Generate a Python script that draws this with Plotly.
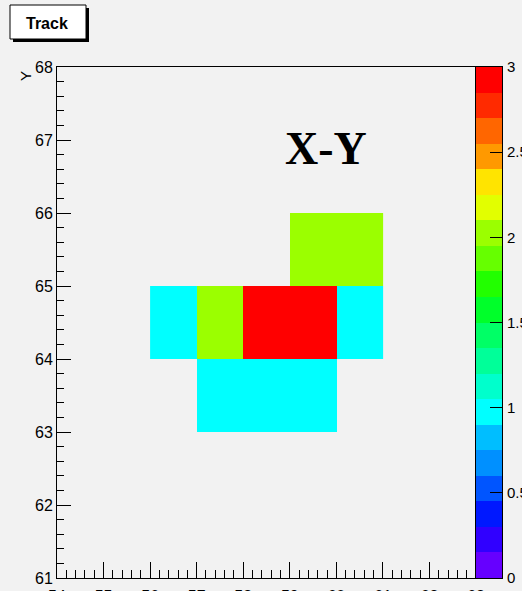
import plotly.graph_objects as go

# Bin centres of the filled cells (unit-wide bins)
x_centers = [56.5, 57.5, 58.5, 59.5, 60.5]
y_centers = [63.5, 64.5, 65.5]

# Cell contents, one row per y bin (None = empty bin)
z_rows = [
    [None, 1, 1, 1, None],
    [1, 2, 3, 3, 1],
    [None, None, None, 2, 2],
]

x_range = [54, 63]
y_range = [61, 68]
z_range = [0, 3]
cbar_ticks = [0, 0.5, 1, 1.5, 2, 2.5, 3]
cbar_ticktext = ["0", "0.5", "1", "1.5", "2", "2.5", "3"]

# 20-level rainbow palette, bottom to top
palette = [
    "#6600FF", "#3000FF", "#0018FF", "#0055FF", "#0090FF",
    "#00BEFF", "#00FFFF", "#00FFCC", "#00FF99", "#00FF66",
    "#00FF2A", "#22FF00", "#66FF00", "#9BFF00", "#E2FF00",
    "#FFE400", "#FF9900", "#FF6600", "#FF2A00", "#FF0000",
]
n = len(palette)
colorscale = []
for i, c in enumerate(palette):
    colorscale.append([i / n, c])
    colorscale.append([(i + 1) / n, c])

# palette bar: one cell per contour level
step = (z_range[1] - z_range[0]) / n
bar_y = [z_range[0] + (i + 0.5) * step for i in range(n)]
bar_z = [[v] for v in bar_y]

W, H = 522, 591
ML, MR, MT, MB = 57, 20, 67, 13
PW, PH = W - ML - MR, H - MT - MB
FRAME_RIGHT = 476          # pixel x where the frame meets the palette bar
split = (FRAME_RIGHT - ML) / PW


def px(xp):
    return (xp - ML) / PW


def py(yp):
    return (H - MB - yp) / PH


BG = "#f2f2f2"

fig = go.Figure()
fig.add_trace(
    go.Heatmap(
        x=x_centers,
        y=y_centers,
        z=z_rows,
        zmin=z_range[0],
        zmax=z_range[1],
        colorscale=colorscale,
        showscale=False,
        hoverongaps=False,
        xaxis="x",
        yaxis="y",
    )
)
fig.add_trace(
    go.Heatmap(
        x=[0],
        y=bar_y,
        z=bar_z,
        zmin=z_range[0],
        zmax=z_range[1],
        colorscale=colorscale,
        showscale=False,
        xaxis="x2",
        yaxis="y2",
    )
)

axis_font = dict(family="Liberation Sans", size=16, color="black")

fig.update_layout(
    xaxis=dict(
        domain=[0, split],
        anchor="y",
        range=x_range,
        tickmode="linear",
        tick0=54,
        dtick=1,
        ticks="inside",
        ticklen=16,
        tickcolor="black",
        tickwidth=1,
        minor=dict(ticks="inside", dtick=0.2, ticklen=8, tickcolor="black", tickwidth=1),
        showline=True,
        linecolor="black",
        linewidth=1,
        mirror=True,
        showgrid=False,
        zeroline=False,
        tickfont=axis_font,
        automargin=False,
        ticklabelstandoff=4,
    ),
    yaxis=dict(
        domain=[0, 1],
        anchor="x",
        range=y_range,
        tickmode="linear",
        tick0=61,
        dtick=1,
        ticks="inside",
        ticklen=14,
        tickcolor="black",
        tickwidth=1,
        minor=dict(ticks="inside", dtick=0.2, ticklen=7, tickcolor="black", tickwidth=1),
        showline=True,
        linecolor="black",
        linewidth=1,
        mirror=True,
        showgrid=False,
        zeroline=False,
        tickfont=axis_font,
        automargin=False,
    ),
    xaxis2=dict(
        domain=[split, 1],
        anchor="y2",
        range=[-0.5, 0.5],
        showticklabels=False,
        ticks="",
        showline=True,
        linecolor="black",
        linewidth=1,
        mirror=True,
        showgrid=False,
        zeroline=False,
        fixedrange=True,
    ),
    yaxis2=dict(
        domain=[0, 1],
        anchor="x2",
        side="right",
        range=z_range,
        tickmode="array",
        tickvals=cbar_ticks,
        ticktext=cbar_ticktext,
        ticks="inside",
        ticklen=12,
        tickcolor="black",
        tickwidth=1,
        showline=True,
        linecolor="black",
        linewidth=1,
        mirror=True,
        showgrid=False,
        zeroline=False,
        tickfont=dict(family="Liberation Sans", size=15, color="black"),
        automargin=False,
        ticklabelstandoff=1,
        fixedrange=True,
    ),
)

shapes = [
    # title box shadow and box
    dict(type="rect", xref="paper", yref="paper",
         x0=px(13), x1=px(89), y0=py(42), y1=py(8),
         fillcolor="black", line=dict(width=0), layer="above"),
    dict(type="rect", xref="paper", yref="paper",
         x0=px(10), x1=px(86), y0=py(39), y1=py(5),
         fillcolor="white", line=dict(color="black", width=1), layer="above"),
]

annotations = [
    dict(text="<b>Track</b>", xref="paper", yref="paper", x=px(47), y=py(23),
         xanchor="center", yanchor="middle", showarrow=False,
         font=dict(family="Liberation Sans", size=16, color="black")),
    dict(text="<b>X-Y</b>", xref="paper", yref="paper", x=px(326), y=py(148),
         xanchor="center", yanchor="middle", showarrow=False,
         font=dict(family="Liberation Serif", size=46, color="black")),
    dict(text="Y", xref="paper", yref="paper", x=px(25), y=py(76),
         xanchor="center", yanchor="middle", showarrow=False, textangle=-90,
         font=dict(family="Liberation Sans", size=15, color="black")),
]

fig.update_layout(
    template="none",
    width=W,
    height=H,
    margin=dict(l=ML, r=MR, t=MT, b=MB, pad=0),
    paper_bgcolor=BG,
    plot_bgcolor=BG,
    showlegend=False,
    shapes=shapes,
    annotations=annotations,
)

fig.write_html("out.html")
